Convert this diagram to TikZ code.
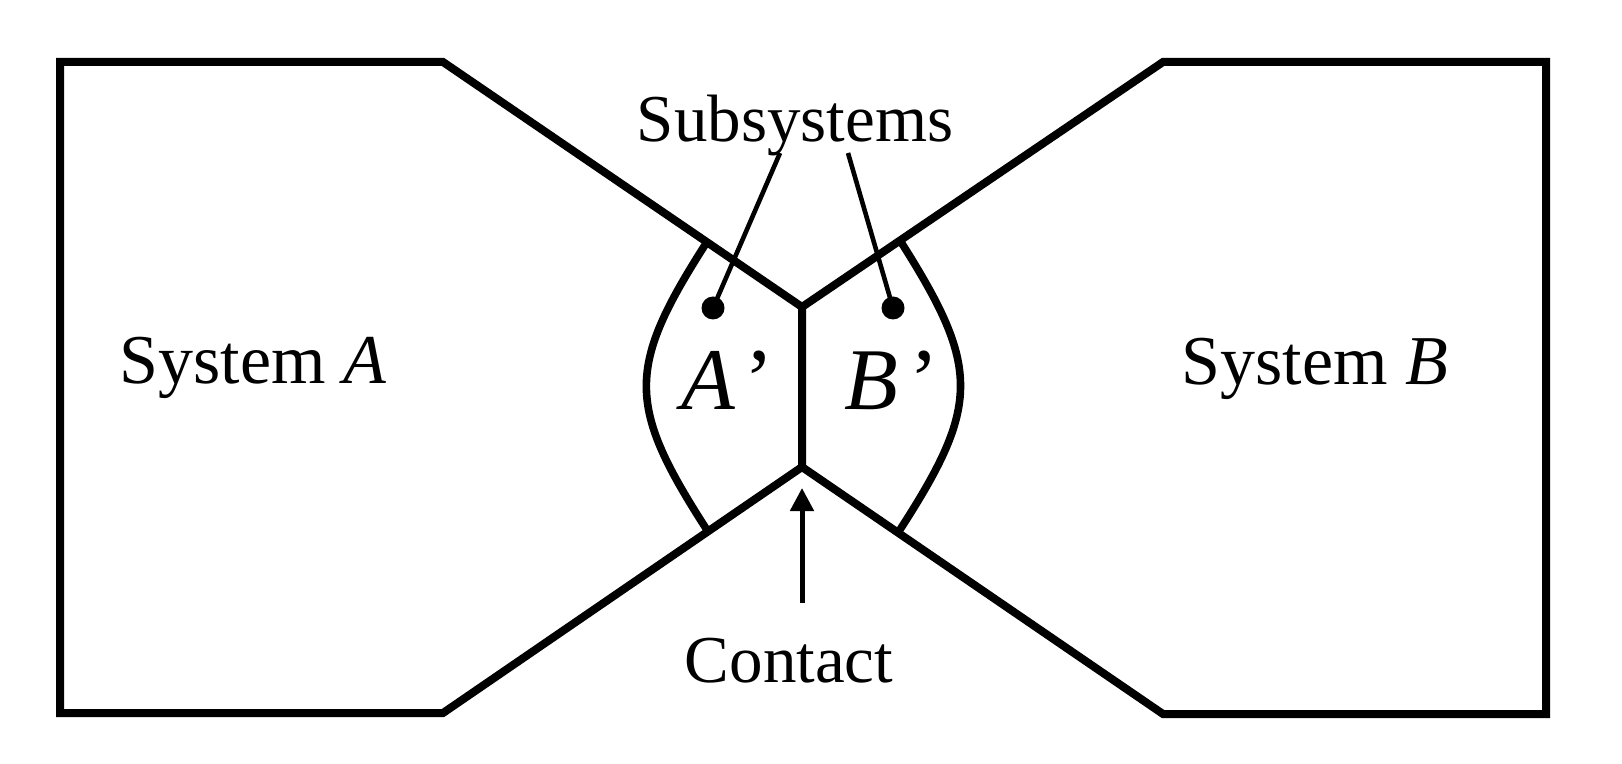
\documentclass[tikz,border=0pt]{standalone}
\usepackage{fontspec}
\setmainfont{Liberation Serif}
\usetikzlibrary{arrows.meta,calc}
\begin{document}
\begin{tikzpicture}[x=0.5pt,y=-0.5pt,
  wall/.style={line width=4pt,line join=miter},
  lens/.style={line width=3.8pt},
  leader/.style={line width=2.3pt},
  label/.style={inner sep=0pt,anchor=base,font=\fontsize{33.5}{40}\selectfont},
  syslabel/.style={inner sep=0pt,anchor=base,font=\fontsize{35}{42}\selectfont},
  prime/.style={inner sep=0pt,anchor=base west,font=\fontsize{44}{50}\selectfont},
  dot/.style={circle,fill=black,inner sep=0pt,minimum size=11.5pt}]
\useasboundingbox (0,0) rectangle (1622,764);
% corners
\coordinate (LT) at (60,62);
\coordinate (TL) at (443,62);
\coordinate (C1) at (802,307);
\coordinate (C2) at (802,467);
\coordinate (BL) at (443,713);
\coordinate (LB) at (60,713);
\coordinate (RT) at (1546,62);
\coordinate (TR) at (1163,62);
\coordinate (BR) at (1163,714);
\coordinate (RB) at (1546,714);
% system outlines
\draw[wall] (C2) -- (C1) -- (TL) -- (LT) -- (LB) -- (BL) -- cycle;
\draw[wall] (C1) -- (TR) -- (RT) -- (RB) -- (BR) -- (C2);
% subsystem boundaries
\coordinate (lt) at ($(TL)!0.735!(C1)$);
\coordinate (lb) at ($(BL)!0.738!(C2)$);
\coordinate (rt) at ($(TR)!0.7285!(C1)$);
\coordinate (rb) at ($(BR)!0.734!(C2)$);
\draw[lens] (lt) .. controls (626,368) and (626,405) .. (lb);
\draw[lens] (rt) .. controls (981,368) and (981,405) .. (rb);
% labels
\node[syslabel] (sysA) at (253,384) {System \textit{A}};
\node[syslabel] (sysB) at (1315,385) {System \textit{B}};
\node[label] (sub) at (795,142) {Subsystems};
\node[label] (con) at (789,682) {Contact};
\node[prime] (Ap) at (681,410) {\textit{A}\hspace{0.1em}’};
\node[prime] (Bp) at (844,410) {\textit{B}\hspace{0.13em}’};
% dots and leaders
\node[dot] (dA) at (713,308) {};
\node[dot] (dB) at (893,308) {};
\coordinate (lA) at (780,153);
\coordinate (lB) at (848,153);
\draw[leader] (dA.center) -- (lA);
\draw[leader] (dB.center) -- (lB);
% contact arrow
\coordinate (arrS) at (802,603);
\coordinate (arrE) at (802,488);
\draw[line width=2.5pt,-{Triangle[length=11.5pt,width=11.5pt]}] (arrS) -- (arrE);
\end{tikzpicture}
\end{document}
